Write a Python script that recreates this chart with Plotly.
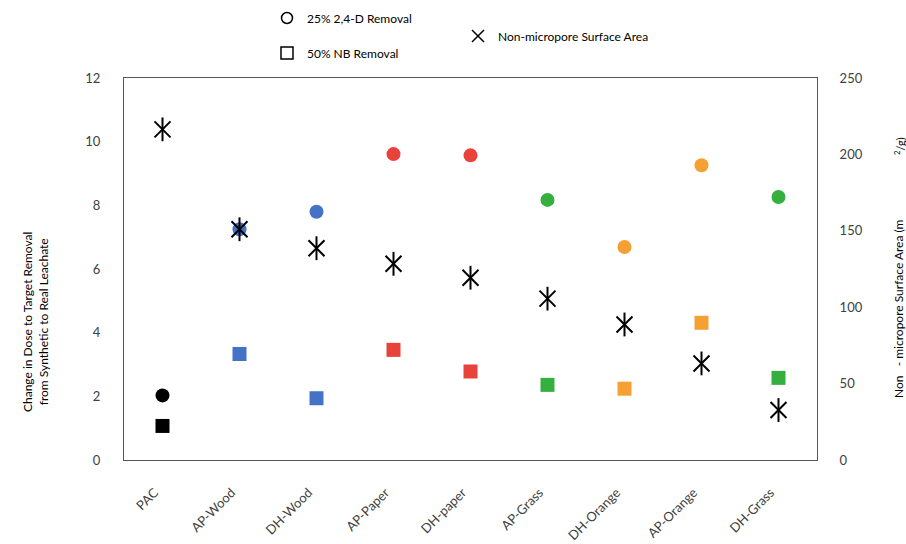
import plotly.graph_objects as go

categories = ["PAC", "AP-Wood", "DH-Wood", "AP-Paper", "DH-paper",
              "AP-Grass", "DH-Orange", "AP-Orange", "DH-Grass"]
removal_24d = [2.03, 7.25, 7.80, 9.61, 9.57, 8.17, 6.69, 9.26, 8.26]
removal_nb = [1.07, 3.33, 1.94, 3.46, 2.78, 2.36, 2.24, 4.31, 2.58]
surface_area = [216.4, 151.0, 138.6, 128.4, 119.3, 105.6, 88.7, 63.2, 32.7]
colors = ["#000000", "#4472C4", "#4472C4", "#E8423A", "#E8423A",
          "#35B03F", "#F5A033", "#F5A033", "#35B03F"]
left_ticks = [0, 2, 4, 6, 8, 10, 12]
right_ticks = [0, 50, 100, 150, 200, 250]

FONT = "Lato, Carlito, 'Liberation Sans', sans-serif"
TXT = "#404040"

W, H = 906, 544
L, R, T, B = 124, 89, 78, 84
PW, PH = W - L - R, H - T - B

def px(x):
    return (x - L) / PW

def py(y):
    return (H - B - y) / PH

fig = go.Figure()

fig.add_trace(go.Scatter(
    x=categories, y=removal_nb, mode="markers", showlegend=False,
    marker=dict(symbol="square", size=14, color=colors, line=dict(width=0)),
))
fig.add_trace(go.Scatter(
    x=categories, y=removal_24d, mode="markers", showlegend=False,
    marker=dict(symbol="circle", size=14, color=colors, line=dict(width=0)),
))
fig.add_trace(go.Scatter(
    x=categories, y=surface_area, yaxis="y2", mode="markers", showlegend=False,
    marker=dict(symbol="x-thin-open", size=16, color="black",
                line=dict(width=2, color="black")),
))
fig.add_trace(go.Scatter(
    x=categories, y=surface_area, yaxis="y2", mode="markers", showlegend=False,
    marker=dict(symbol="line-ns-open", size=17, color="black",
                line=dict(width=2, color="black")),
))

# legend entries
fig.add_trace(go.Scatter(
    x=[None], y=[None], mode="markers", name="25% 2,4-D Removal", legend="legend",
    marker=dict(symbol="circle-open", size=11, color="black", line=dict(width=1.5, color="black")),
))
fig.add_trace(go.Scatter(
    x=[None], y=[None], mode="markers", name="50% NB Removal", legend="legend2",
    marker=dict(symbol="square-open", size=12, color="black", line=dict(width=1.5, color="black")),
))
fig.add_trace(go.Scatter(
    x=[None], y=[None], mode="markers", name="Non-micropore Surface Area", legend="legend3",
    marker=dict(symbol="x-thin-open", size=12, color="black", line=dict(width=1.5, color="black")),
))

leg_common = dict(font=dict(family=FONT, size=12, color="black"),
                  bgcolor="rgba(0,0,0,0)", xanchor="left", yanchor="middle",
                  itemwidth=30, tracegroupgap=0)

axis_line = dict(showline=True, linecolor="#555555", linewidth=1, mirror=True,
                 showgrid=False, zeroline=False)

fig.update_layout(
    width=W, height=H,
    margin=dict(l=L, r=R, t=T, b=B, autoexpand=False),
    paper_bgcolor="white", plot_bgcolor="white",
    font=dict(family=FONT, size=13, color=TXT),
    legend=dict(x=px(267), y=py(18), **leg_common),
    legend2=dict(x=px(267), y=py(53), **leg_common),
    legend3=dict(x=px(458), y=py(36), **leg_common),
    xaxis=dict(type="category", categoryorder="array", categoryarray=categories,
               range=[-0.5, len(categories) - 0.5], ticks="",
               tickangle=-45, ticklabelstandoff=19, ticklabelshift=-8,
               tickfont=dict(family=FONT, size=13, color=TXT),
               **axis_line),
    yaxis=dict(range=[0, 12], tickvals=left_ticks, ticks="",
               ticklabelstandoff=20, tickfont=dict(family=FONT, size=13, color=TXT),
               **axis_line),
    yaxis2=dict(overlaying="y", side="right", range=[0, 250], tickvals=right_ticks,
                ticks="", ticklabelstandoff=19, showgrid=False, zeroline=False,
                showline=True, linecolor="#555555", linewidth=1,
                tickfont=dict(family=FONT, size=13, color=TXT)),
)

fig.add_annotation(
    xref="paper", yref="paper", x=px(35), y=py(322), showarrow=False,
    text="Change in Dose to Target Removal<br>from Synthetic to Real Leachate",
    textangle=-90, font=dict(family=FONT, size=12, color="black"),
    xanchor="center", yanchor="middle",
)
fig.add_annotation(
    xref="paper", yref="paper", x=px(898), y=py(309), showarrow=False,
    text="Non   - micropore Surface Area (m",
    textangle=-90, font=dict(family=FONT, size=12, color="black"),
    xanchor="center", yanchor="middle",
)
fig.add_annotation(
    xref="paper", yref="paper", x=px(899), y=py(146), showarrow=False,
    text="<sup>2</sup>/g)",
    textangle=-90, font=dict(family=FONT, size=11, color="black"),
    xanchor="center", yanchor="middle",
)

fig.write_html("out.html")
